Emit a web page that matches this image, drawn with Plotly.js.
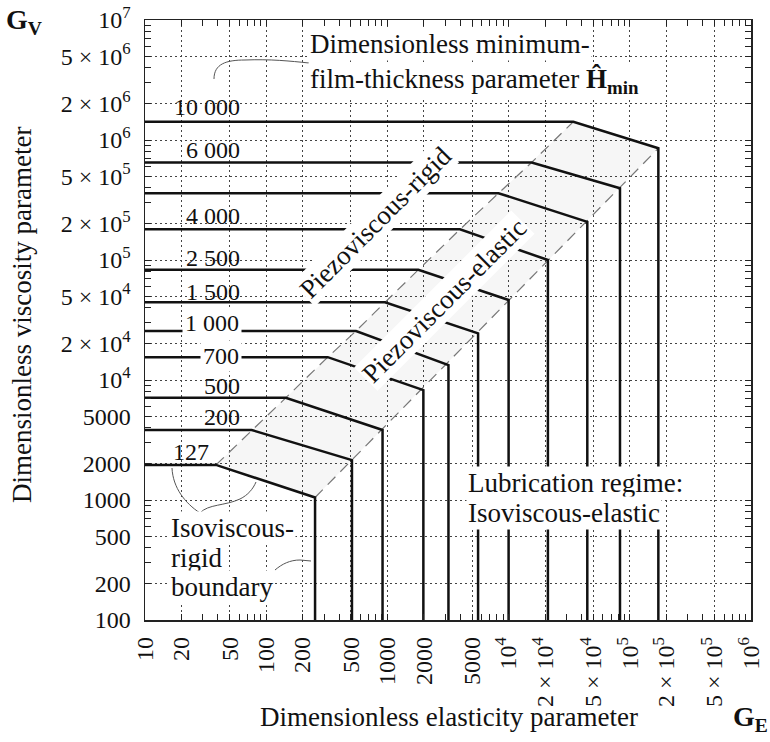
<!DOCTYPE html>
<html><head><meta charset="utf-8">
<script src="https://cdn.plot.ly/plotly-3.0.1.min.js"></script>
<style>html,body{margin:0;padding:0;background:#fff}</style>
</head><body>
<div id="chart" style="width:770px;height:742px"></div>
<script>
// ---- data ----
const hminLabels = ['10 000', '6 000', '', '4 000', '2 500', '1 500', '1 000', '700', '500', '200', '127'];
const gvPlateau  = [1.42e6, 6.5e5, 3.6e5, 1.8e5, 8.3e4, 4.44e4, 2.56e4, 1.55e4, 7.1e3, 3.83e3, 1.96e3];
const geRigid    = [3.42e4, 1.55e4, 8.26e3, 3.97e3, 1.80e3, 955, 551, 322, 145, 76, 38.5];
const geKnee     = [1.72e5, 8.3e4, 4.46e4, 2.11e4, 1.0e4, 5.6e3, 3.19e3, 1.98e3, 912, 510, 253];
const gvKnee     = [8.53e5, 3.96e5, 2.08e5, 1.0e5, 4.64e4, 2.45e4, 1.33e4, 8.25e3, 3.83e3, 2.15e3, 1.05e3];
const geStart = 10;
const gvFloor = 100;

const xTickVals = [10, 20, 50, 100, 200, 500, 1000, 2000, 5000, 1e4, 2e4, 5e4, 1e5, 2e5, 5e5, 1e6];
const xTickText = ['10', '20', '50', '100', '200', '500', '1000', '2000', '5000',
  '10<sup>4</sup>', '2 × 10<sup>4</sup>', '5 × 10<sup>4</sup>',
  '10<sup>5</sup>', '2 × 10<sup>5</sup>', '5 × 10<sup>5</sup>', '10<sup>6</sup>'];
const yTickVals = [100, 200, 500, 1000, 2000, 5000, 1e4, 2e4, 5e4, 1e5, 2e5, 5e5, 1e6, 2e6, 5e6, 1e7];
const yTickText = ['100', '200', '500', '1000', '2000', '5000',
  '10<sup>4</sup>', '2 × 10<sup>4</sup>', '5 × 10<sup>4</sup>',
  '10<sup>5</sup>', '2 × 10<sup>5</sup>', '5 × 10<sup>5</sup>',
  '10<sup>6</sup>', '2 × 10<sup>6</sup>', '5 × 10<sup>6</sup>', '10<sup>7</sup>'];
const xMinorVals = [30,40,60,70,80,90, 300,400,600,700,800,900, 3000,4000,6000,7000,8000,9000,
  3e4,4e4,6e4,7e4,8e4,9e4, 3e5,4e5,6e5,7e5,8e5,9e5];
const yMinorVals = [300,400,600,700,800,900, 3000,4000,6000,7000,8000,9000,
  3e4,4e4,6e4,7e4,8e4,9e4, 3e5,4e5,6e5,7e5,8e5,9e5, 3e6,4e6,6e6,7e6,8e6,9e6];

// ---- layout helpers (pixel geometry of the plot frame) ----
const W = 770, H = 742;
const PL = 145, PR = 751, PT = 20, PB = 620;
const fx = px => (px - PL) / (PR - PL);
const fy = py => (PB - py) / (PB - PT);
const yPix = v => PT + (7 - Math.log10(v)) * (PB - PT) / 5;
function paperPath(s) {
  return s.replace(/(-?\d+\.?\d*),(-?\d+\.?\d*)/g, (m, a, b) => fx(+a).toFixed(5) + ',' + fy(+b).toFixed(5));
}
const FONT = 'Liberation Serif';
const INK = '#111';

// label placement (style, not data)
const labelRightPx = [242, 242, 0, 242, 242, 242, 242, 242, 242, 242, 211];
const labelRaisePx = [15, 12, 0, 13, 12, 10, 8, 1, 12, 13, 13];
const labelOnLine  = [false, false, false, false, false, false, true, true, false, false, false];

// ---- traces ----
const last = gvPlateau.length - 1;
const traces = [];
traces.push({
  x: [geRigid[last], geRigid[0], geKnee[0], geKnee[last], geRigid[last]],
  y: [gvPlateau[last], gvPlateau[0], gvKnee[0], gvKnee[last], gvPlateau[last]],
  mode: 'lines', fill: 'toself', fillcolor: 'rgba(0,0,0,0.035)', line: {width: 0}, hoverinfo: 'skip'
});
traces.push({
  x: geRigid.slice().reverse(), y: gvPlateau.slice().reverse(),
  mode: 'lines', line: {color: '#777', width: 1.2, dash: '11px,7px'}, hoverinfo: 'skip'
});
traces.push({
  x: [geKnee[last], geKnee[0]], y: [gvKnee[last], gvKnee[0]],
  mode: 'lines', line: {color: '#777', width: 1.2, dash: '11px,7px'}, hoverinfo: 'skip'
});
for (let i = 0; i < gvPlateau.length; i++) {
  traces.push({
    x: [geStart, geRigid[i], geKnee[i], geKnee[i]],
    y: [gvPlateau[i], gvPlateau[i], gvKnee[i], gvFloor],
    mode: 'lines', line: {color: INK, width: 2.5}, hoverinfo: 'skip', name: hminLabels[i]
  });
}

// ---- annotations & shapes ----
const annotations = [];
const shapes = [];
const tf = (size, extra) => Object.assign({family: FONT, size: size, color: INK}, extra || {});

for (let i = 0; i < hminLabels.length; i++) {
  if (!hminLabels[i]) continue;
  const cy = yPix(gvPlateau[i]) - labelRaisePx[i];
  const a = {
    xref: 'paper', yref: 'paper', x: fx(labelRightPx[i]), y: fy(cy),
    xanchor: 'right', yanchor: 'middle', text: hminLabels[i], showarrow: false, font: tf(24)
  };
  if (labelOnLine[i]) { a.bgcolor = '#fff'; a.borderpad = 2; }
  else {
    const w = hminLabels[i].length * 12 + 4;
    shapes.push({type: 'rect', layer: 'between', xref: 'paper', yref: 'paper',
      x0: fx(labelRightPx[i] - w), x1: fx(labelRightPx[i] + 3), y0: fy(cy + 10), y1: fy(cy - 11),
      fillcolor: '#fff', line: {width: 0}});
  }
  annotations.push(a);
}

function note(text, px, py, opt) {
  annotations.push(Object.assign({
    xref: 'paper', yref: 'paper', x: fx(px), y: fy(py), text: text, showarrow: false,
    xanchor: 'left', yanchor: 'middle', font: tf(27), bgcolor: '#fff', borderpad: 1
  }, opt || {}));
}
const CLEAR = 'rgba(0,0,0,0)';
note('Dimensionless minimum-', 308, 44);
note('film-thickness parameter <b>Ĥ</b><sub><b>min</b></sub>', 308, 81);
note('Piezoviscous-rigid', 375, 223, {xanchor: 'center', textangle: -45});
note('Piezoviscous-elastic', 444, 301, {xanchor: 'center', textangle: -45});
note('Lubrication regime:', 466, 483);
note('Isoviscous-elastic', 466, 513);
note('Isoviscous-', 169, 528);
note('rigid', 169, 558);
note('boundary', 169, 587);
note('Dimensionless viscosity parameter', 22, 315, {xanchor: 'center', textangle: -90, bgcolor: CLEAR});
note('Dimensionless elasticity parameter', 449, 717, {xanchor: 'center', bgcolor: CLEAR});
note('<b>G<sub>V</sub></b>', 24, 22, {xanchor: 'center', font: tf(28), bgcolor: CLEAR});
note('<b>G<sub>E</sub></b>', 750, 718, {xanchor: 'center', font: tf(28), bgcolor: CLEAR});

const leaders = [
  'M214,79 C214,64 226,60 245,60 C270,59 290,61 309,63',
  'M172,468 C173,488 185,503 200,513 C208,504 225,506 240,499 C248,495 253,489 256,482',
  'M275,570 C282,564 290,560 300,560 L311,561'
];
leaders.forEach(p => shapes.push({type: 'path', xref: 'paper', yref: 'paper', path: paperPath(p),
  line: {color: '#555', width: 1}, layer: 'above'}));

const axisCommon = {
  type: 'log', tickmode: 'array', ticks: 'inside', ticklen: 6, tickwidth: 1, tickcolor: '#222',
  showline: true, linecolor: '#222', linewidth: 1.5, mirror: 'allticks',
  showgrid: true, gridcolor: '#444', gridwidth: 1, griddash: '2px,3px', zeroline: false,
  tickfont: tf(24), fixedrange: true
};

const layout = {
  width: W, height: H, margin: {l: PL, r: W - PR, t: PT, b: H - PB},
  paper_bgcolor: '#fff', plot_bgcolor: '#fff', showlegend: false,
  font: {family: FONT, size: 24, color: INK},
  xaxis: Object.assign({}, axisCommon, {
    range: [1, 6], tickvals: xTickVals, ticktext: xTickText, tickangle: -90, ticklabelstandoff: 6,
    minor: {tickmode: 'array', tickvals: xMinorVals, ticks: 'inside', ticklen: 6, tickcolor: '#222', showgrid: false}
  }),
  yaxis: Object.assign({}, axisCommon, {
    range: [2, 7], tickvals: yTickVals, ticktext: yTickText, ticklabelstandoff: 8,
    minor: {tickmode: 'array', tickvals: yMinorVals, ticks: 'inside', ticklen: 6, tickcolor: '#222', showgrid: false}
  }),
  annotations: annotations,
  shapes: shapes
};

Plotly.newPlot('chart', traces, layout, {staticPlot: true, displayModeBar: false});
</script>
</body></html>
